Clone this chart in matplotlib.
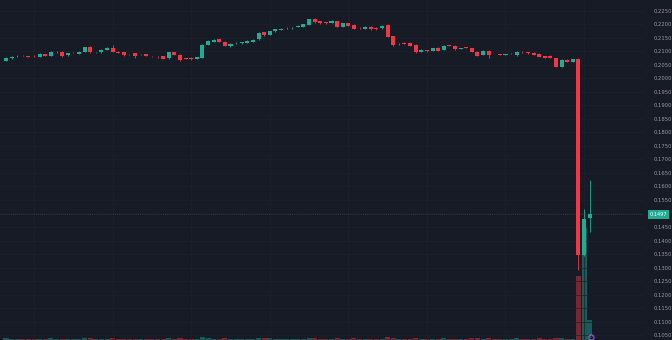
import numpy as np
import matplotlib
matplotlib.use("Agg")
import matplotlib.pyplot as plt
import matplotlib.transforms as mtransforms

# OHLC per bar
opens = [0.2066, 0.2076, 0.2083, 0.2084, 0.2082, 0.2084, 0.2081, 0.2090, 0.2084, 0.2098,
         0.2099, 0.2086, 0.2094, 0.2092, 0.2098, 0.2117, 0.2095, 0.2097, 0.2106, 0.2114,
         0.2099, 0.2097, 0.2090, 0.2093, 0.2089, 0.2090, 0.2083, 0.2080, 0.2082, 0.2076,
         0.2097, 0.2088, 0.2074, 0.2077, 0.2072, 0.2077, 0.2124, 0.2136, 0.2145, 0.2136,
         0.2120, 0.2130, 0.2130, 0.2133, 0.2135, 0.2145, 0.2172, 0.2162, 0.2175, 0.2180,
         0.2186, 0.2186, 0.2190, 0.2192, 0.2198, 0.2220, 0.2212, 0.2209, 0.2207, 0.2212,
         0.2192, 0.2204, 0.2199, 0.2188, 0.2184, 0.2191, 0.2187, 0.2186, 0.2198, 0.2157,
         0.2128, 0.2133, 0.2133, 0.2125, 0.2098, 0.2104, 0.2103, 0.2113, 0.2107, 0.2122,
         0.2121, 0.2111, 0.2115, 0.2112, 0.2098, 0.2087, 0.2102, 0.2091, 0.2089, 0.2088,
         0.2090, 0.2086, 0.2098, 0.2097, 0.2096, 0.2092, 0.2083, 0.2084, 0.2075, 0.2043,
         0.2069, 0.2062, 0.2072, 0.1346, 0.1483]
closes = [0.2075, 0.2081, 0.2084, 0.2083, 0.2081, 0.2083, 0.2091, 0.2084, 0.2099, 0.2099,
          0.2083, 0.2093, 0.2095, 0.2099, 0.2117, 0.2097, 0.2096, 0.2106, 0.2114, 0.2098,
          0.2094, 0.2086, 0.2089, 0.2082, 0.2090, 0.2084, 0.2082, 0.2079, 0.2073, 0.2097,
          0.2088, 0.2069, 0.2073, 0.2071, 0.2079, 0.2124, 0.2140, 0.2143, 0.2135, 0.2120,
          0.2129, 0.2131, 0.2135, 0.2139, 0.2144, 0.2170, 0.2160, 0.2175, 0.2182, 0.2184,
          0.2187, 0.2187, 0.2196, 0.2201, 0.2220, 0.2208, 0.2204, 0.2204, 0.2213, 0.2190,
          0.2204, 0.2196, 0.2183, 0.2187, 0.2191, 0.2182, 0.2182, 0.2196, 0.2155, 0.2123,
          0.2129, 0.2127, 0.2122, 0.2098, 0.2106, 0.2100, 0.2112, 0.2103, 0.2121, 0.2121,
          0.2108, 0.2112, 0.2114, 0.2098, 0.2084, 0.2102, 0.2086, 0.2090, 0.2088, 0.2089,
          0.2091, 0.2099, 0.2097, 0.2093, 0.2088, 0.2081, 0.2077, 0.2077, 0.2044, 0.2069,
          0.2062, 0.2072, 0.1346, 0.1480, 0.1497]
highs = [0.2078, 0.2085, 0.2086, 0.2086, 0.2084, 0.2086, 0.2093, 0.2092, 0.2101, 0.2101,
         0.2101, 0.2095, 0.2097, 0.2101, 0.2118, 0.2119, 0.2098, 0.2108, 0.2116, 0.2124,
         0.2101, 0.2099, 0.2092, 0.2095, 0.2092, 0.2091, 0.2084, 0.2082, 0.2084, 0.2099,
         0.2099, 0.2090, 0.2076, 0.2079, 0.2081, 0.2126, 0.2142, 0.2146, 0.2148, 0.2138,
         0.2131, 0.2134, 0.2137, 0.2141, 0.2146, 0.2172, 0.2174, 0.2177, 0.2184, 0.2187,
         0.2190, 0.2189, 0.2198, 0.2203, 0.2222, 0.2224, 0.2214, 0.2211, 0.2215, 0.2214,
         0.2206, 0.2206, 0.2201, 0.2190, 0.2193, 0.2193, 0.2189, 0.2198, 0.2200, 0.2159,
         0.2132, 0.2135, 0.2135, 0.2127, 0.2108, 0.2106, 0.2114, 0.2115, 0.2123, 0.2124,
         0.2123, 0.2114, 0.2116, 0.2114, 0.2100, 0.2104, 0.2104, 0.2092, 0.2090, 0.2091,
         0.2093, 0.2101, 0.2100, 0.2099, 0.2098, 0.2094, 0.2085, 0.2086, 0.2077, 0.2071,
         0.2071, 0.2074, 0.2076, 0.1517, 0.1624]
lows = [0.2063, 0.2074, 0.2081, 0.2082, 0.2079, 0.2081, 0.2079, 0.2083, 0.2083, 0.2096,
        0.2081, 0.2085, 0.2093, 0.2091, 0.2097, 0.2095, 0.2093, 0.2096, 0.2105, 0.2097,
        0.2093, 0.2085, 0.2088, 0.2076, 0.2087, 0.2083, 0.2080, 0.2077, 0.2072, 0.2074,
        0.2087, 0.2066, 0.2071, 0.2069, 0.2071, 0.2076, 0.2123, 0.2135, 0.2134, 0.2119,
        0.2118, 0.2128, 0.2129, 0.2132, 0.2134, 0.2144, 0.2159, 0.2161, 0.2174, 0.2179,
        0.2184, 0.2185, 0.2189, 0.2191, 0.2197, 0.2207, 0.2203, 0.2203, 0.2206, 0.2189,
        0.2191, 0.2195, 0.2182, 0.2185, 0.2183, 0.2181, 0.2181, 0.2185, 0.2154, 0.2121,
        0.2125, 0.2126, 0.2121, 0.2096, 0.2097, 0.2097, 0.2102, 0.2102, 0.2106, 0.2120,
        0.2107, 0.2110, 0.2113, 0.2097, 0.2083, 0.2086, 0.2076, 0.2089, 0.2087, 0.2087,
        0.2089, 0.2085, 0.2096, 0.2092, 0.2087, 0.2080, 0.2076, 0.2076, 0.2043, 0.2042,
        0.2061, 0.2061, 0.1291, 0.1344, 0.1431]
volumes = [0.05, 0.04, 0.03, 0.03, 0.03, 0.03, 0.04, 0.03, 0.05, 0.03,
           0.04, 0.03, 0.03, 0.03, 0.05, 0.05, 0.03, 0.04, 0.04, 0.05,
           0.03, 0.04, 0.03, 0.04, 0.03, 0.03, 0.03, 0.03, 0.04, 0.06,
           0.04, 0.05, 0.03, 0.03, 0.03, 0.09, 0.06, 0.04, 0.04, 0.05,
           0.03, 0.03, 0.03, 0.03, 0.04, 0.07, 0.05, 0.05, 0.04, 0.03,
           0.03, 0.03, 0.04, 0.04, 0.07, 0.05, 0.04, 0.03, 0.03, 0.06,
           0.04, 0.04, 0.05, 0.03, 0.03, 0.04, 0.03, 0.04, 0.08, 0.07,
           0.03, 0.04, 0.04, 0.06, 0.04, 0.03, 0.04, 0.04, 0.05, 0.03,
           0.04, 0.03, 0.03, 0.05, 0.05, 0.04, 0.05, 0.03, 0.03, 0.03,
           0.03, 0.05, 0.03, 0.03, 0.04, 0.05, 0.04, 0.04, 0.07, 0.07,
           0.04, 0.04, 1.88, 3.30, 0.59]
price_ticks = np.round(np.arange(0.105, 0.22501, 0.005), 4)
last_price = 0.1497

bg = '#171b26'
up = '#22ab94'
down = '#f23645'

fig = plt.figure(figsize=(6.72, 3.4), dpi=100, facecolor=bg)
pos = [0, 0, 643 / 672, 1]

axv = fig.add_axes(pos, facecolor=bg)
ax = fig.add_axes(pos, sharex=axv)
ax.set_facecolor('none')

x = np.arange(len(opens))
o = np.array(opens)
c = np.array(closes)
rising = c >= o
col = np.where(rising, up, down)

# volume underneath
axv.bar(x, volumes, width=0.9, color=np.where(rising, up, down), alpha=0.45, linewidth=0)
axv.set_ylim(0, 10)
axv.set_yticks([])
axv.set_xticks([])
for s in axv.spines.values():
    s.set_visible(False)

# grid
for t in price_ticks:
    ax.axhline(t, color='#1d212c', lw=0.5, zorder=0)
for gx in np.arange(5, 115, 14):
    ax.axvline(gx, color='#1d212c', lw=0.5, zorder=0)

# candles
ax.vlines(x, lows, highs, colors=col, lw=0.6, zorder=2)
body_lo = np.minimum(o, c)
body_h = np.maximum(np.abs(c - o), 0.00012)
ax.bar(x, body_h, bottom=body_lo, width=0.72, color=col, linewidth=0, zorder=3)

# last price line + label
ax.axhline(last_price, color='#34444c', lw=0.6, ls=(0, (1, 1.5)), zorder=1)
trans = mtransforms.blended_transform_factory(ax.transAxes, ax.transData)
ax.text(1.010, last_price, f'{last_price:.4f}', transform=trans, fontsize=3.6,
        color='white', va='center', ha='left', clip_on=False,
        bbox=dict(boxstyle='square,pad=0.35', facecolor=up, edgecolor='none'))

# event marker
ax.scatter([104.3], [0.1043], s=14, facecolor=bg, edgecolor='#9c6ade', lw=0.7, zorder=5)
ax.text(104.3, 0.1043, 'D', fontsize=2.5, color='#9c6ade', ha='center', va='center', zorder=6)

ax.set_xlim(-1.07, 113.5)
ax.set_ylim(0.10315, 0.22907)
ax.yaxis.tick_right()
ax.set_yticks(price_ticks)
# the last-price tag covers the 0.1500 level
ax.set_yticklabels(['' if abs(t - last_price) < 0.002 else f'{t:.4f}' for t in price_ticks])
ax.tick_params(axis='y', length=0, pad=8, labelsize=3.8, labelcolor='#9598a1')
ax.tick_params(axis='x', length=0, labelbottom=False)
for s in ax.spines.values():
    s.set_visible(False)

fig.savefig('out.png', dpi=100, facecolor=bg)
